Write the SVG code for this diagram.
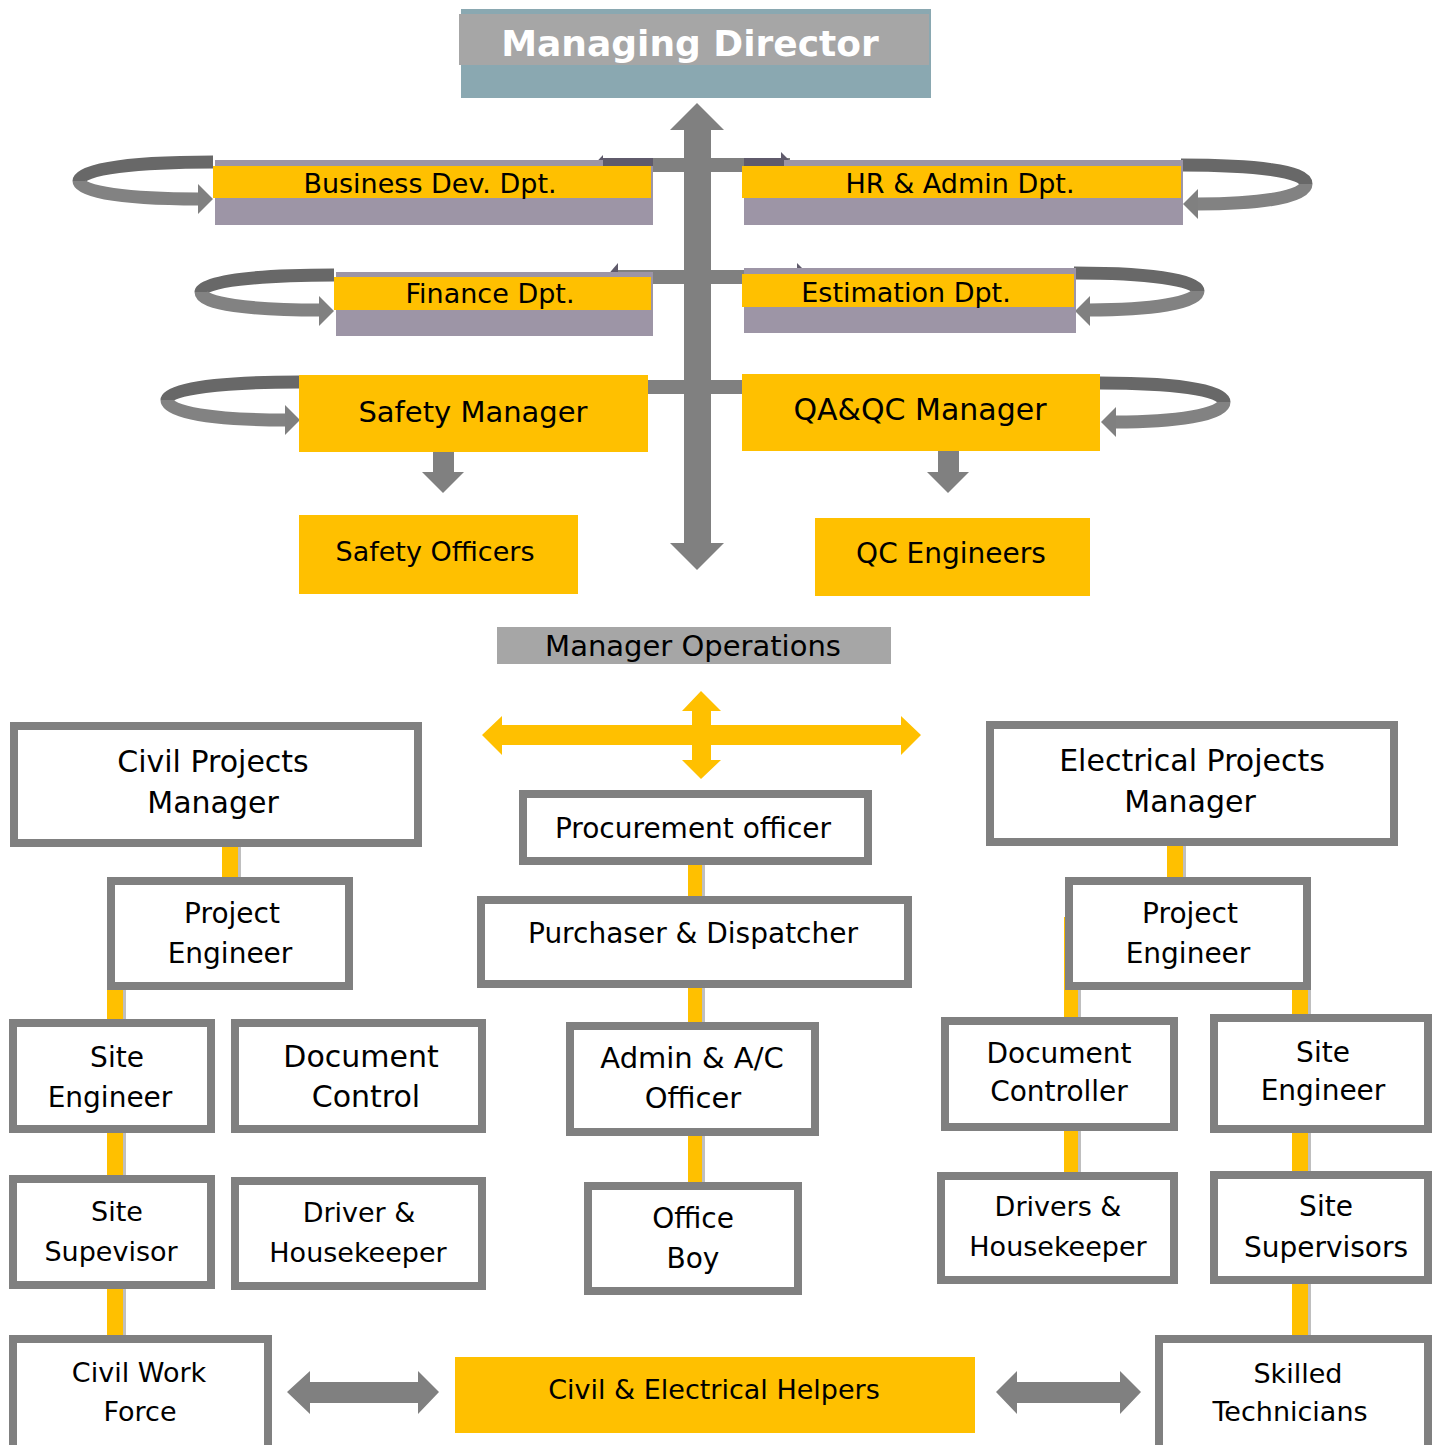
<svg xmlns="http://www.w3.org/2000/svg" width="1440" height="1445" viewBox="0 0 1440 1445">
<style>
text{font-family:"DejaVu Sans",Verdana,"Liberation Sans",sans-serif;text-anchor:middle;fill:#000}
.t27{font-size:27px}.t28{font-size:28px}.t29{font-size:29px}.t30{font-size:30px}
.bx{fill:#fff;stroke:#808080;stroke-width:8}
.yl{fill:#ffc000}
.pu{fill:#9d95a6}
.dk{fill:#5f5a6b}
.gr{fill:#808080}
.ly{fill:#ffc000}
.ls{fill:#bfbfbf}
.lpd{fill:none;stroke:#686868;stroke-width:13}
.lpl{fill:none;stroke:#828282;stroke-width:13}
</style>
<rect width="1440" height="1445" fill="#fff"/>
<g id="connectors">
  <!-- horizontal bars from main spine -->
  <rect class="gr" x="600" y="158" width="190" height="14"/>
  <rect class="gr" x="615" y="270" width="190" height="14"/>
  <rect class="gr" x="645" y="380" width="100" height="14"/>
  <polygon class="dk" points="588,171 603,155 603,171"/>
  <polygon class="dk" points="781,152 795,166 781,166"/>
  <polygon class="dk" points="606,277 618,263 618,277"/>
  <polygon class="dk" points="797,263 810,276 797,276"/>
  <!-- main vertical double arrow -->
  <polygon class="gr" points="697,103 724,130 711,130 711,543 724,543 697,570 670,543 684,543 684,130 670,130"/>
  <!-- loops left -->
  <path class="lpd" d="M213 162 C140 162 79 168 79 181"/>
  <path class="lpl" d="M79 181 C79 193 130 199 199 199"/>
  <polygon class="gr" points="198,184 213,199 198,214"/>
  <path class="lpd" d="M334 275 C260 275 201 281 201 292"/>
  <path class="lpl" d="M201 292 C201 304 250 310 320 310"/>
  <polygon class="gr" points="319,296 334,311 319,326"/>
  <path class="lpd" d="M299 382 C225 382 167 388 167 400"/>
  <path class="lpl" d="M167 400 C167 413 215 420 286 420"/>
  <polygon class="gr" points="285,405 300,420 285,435"/>
  <!-- loops right -->
  <path class="lpd" d="M1181 165 C1255 165 1306 171 1306 184"/>
  <path class="lpl" d="M1306 184 C1306 197 1260 204 1197 204"/>
  <polygon class="gr" points="1198,189 1183,204 1198,219"/>
  <path class="lpd" d="M1074 273 C1145 273 1198 279 1198 291"/>
  <path class="lpl" d="M1198 291 C1198 303 1150 310 1089 310"/>
  <polygon class="gr" points="1090,296 1075,311 1090,326"/>
  <path class="lpd" d="M1100 383 C1170 383 1224 389 1224 402"/>
  <path class="lpl" d="M1224 402 C1224 415 1175 422 1115 422"/>
  <polygon class="gr" points="1116,407 1101,422 1116,437"/>
  <!-- down arrows -->
  <polygon class="gr" points="433,452 454,452 454,472 464,472 443,493 422,472 433,472"/>
  <polygon class="gr" points="938,451 959,451 959,472 969,472 948,493 927,472 938,472"/>
  <!-- yellow cross arrows -->
  <polygon class="yl" points="482,735 502,716 502,725 901,725 901,716 921,735 901,755 901,745 502,745 502,755"/>
  <polygon class="yl" points="701,691 721,711 711,711 711,760 721,760 701,779 682,760 692,760 692,711 682,711"/>
  <!-- bottom double arrows -->
  <polygon class="gr" points="287,1392 310,1371 310,1382 418,1382 418,1371 439,1392 418,1414 418,1403 310,1403 310,1414"/>
  <polygon class="gr" points="996,1392 1017,1371 1017,1382 1120,1382 1120,1371 1141,1392 1120,1414 1120,1403 1017,1403 1017,1414"/>
  <!-- yellow tree lines -->
  <rect class="ls" x="238" y="847" width="3" height="30"/><rect class="ly" x="222" y="847" width="16" height="30"/>
  <rect class="ls" x="123" y="990" width="3" height="29"/><rect class="ly" x="107" y="990" width="16" height="29"/>
  <rect class="ls" x="123" y="1133" width="3" height="42"/><rect class="ly" x="107" y="1133" width="16" height="42"/>
  <rect class="ls" x="123" y="1289" width="3" height="46"/><rect class="ly" x="107" y="1289" width="16" height="46"/>
  <rect class="ls" x="702" y="865" width="3" height="31"/><rect class="ly" x="688" y="865" width="14" height="31"/>
  <rect class="ls" x="702" y="988" width="3" height="34"/><rect class="ly" x="688" y="988" width="14" height="34"/>
  <rect class="ls" x="702" y="1136" width="3" height="46"/><rect class="ly" x="688" y="1136" width="14" height="46"/>
  <rect class="ls" x="1183" y="846" width="3" height="31"/><rect class="ly" x="1167" y="846" width="16" height="31"/>
  <rect class="ls" x="1078" y="917" width="3" height="101"/><rect class="ly" x="1064" y="917" width="14" height="101"/>
  <rect class="ls" x="1078" y="1129" width="3" height="43"/><rect class="ly" x="1064" y="1129" width="14" height="43"/>
  <rect class="ls" x="1308" y="990" width="3" height="25"/><rect class="ly" x="1292" y="990" width="16" height="25"/>
  <rect class="ls" x="1308" y="1133" width="3" height="39"/><rect class="ly" x="1292" y="1133" width="16" height="39"/>
  <rect class="ls" x="1308" y="1283" width="3" height="52"/><rect class="ly" x="1292" y="1283" width="16" height="52"/>
</g>
<g id="managing-director">
  <rect x="461" y="9" width="470" height="89" fill="#8aa8b1"/>
  <rect x="459" y="14" width="470" height="51" fill="#a6a6a6"/>
  <text x="690" y="56" style="font-size:36px;font-weight:bold;fill:#fff">Managing Director</text>
</g>
<g id="business-dev">
  <rect class="pu" x="215" y="160" width="438" height="65"/>
  <rect class="dk" x="603" y="158" width="50" height="8"/>
  <rect class="yl" x="213" y="166" width="438" height="32"/>
  <text class="t27" x="430" y="193">Business Dev. Dpt.</text>
</g>
<g id="hr-admin">
  <rect class="pu" x="744" y="160" width="439" height="65"/>
  <rect class="dk" x="744" y="158" width="40" height="8"/>
  <rect class="yl" x="742" y="166" width="439" height="32"/>
  <text class="t27" x="960" y="193">HR &amp; Admin Dpt.</text>
</g>
<g id="finance">
  <rect class="pu" x="336" y="272" width="317" height="64"/>
  <rect class="yl" x="334" y="277" width="317" height="33"/>
  <text class="t27" x="490" y="303">Finance Dpt.</text>
</g>
<g id="estimation">
  <rect class="pu" x="744" y="268" width="332" height="65"/>
  <rect class="yl" x="742" y="274" width="332" height="33"/>
  <text class="t27" x="906" y="302">Estimation Dpt.</text>
</g>
<g id="safety-manager">
  <rect class="yl" x="299" y="375" width="349" height="77"/>
  <text class="t29" x="473" y="422">Safety Manager</text>
</g>
<g id="qaqc-manager">
  <rect class="yl" x="742" y="374" width="358" height="77"/>
  <text class="t30" x="920" y="420">QA&amp;QC Manager</text>
</g>
<g id="safety-officers">
  <rect class="yl" x="299" y="515" width="279" height="79"/>
  <text class="t27" x="435" y="561">Safety Officers</text>
</g>
<g id="qc-engineers">
  <rect class="yl" x="815" y="518" width="275" height="78"/>
  <text class="t28" x="951" y="563">QC Engineers</text>
</g>
<g id="manager-operations">
  <rect x="497" y="627" width="394" height="37" fill="#a6a6a6"/>
  <text class="t29" x="693" y="656">Manager Operations</text>
</g>
<g id="civil-pm">
  <rect class="bx" x="14" y="726" width="404" height="117"/>
  <text class="t30" x="213" y="772">Civil Projects</text>
  <text class="t30" x="213" y="813">Manager</text>
</g>
<g id="civil-pe">
  <rect class="bx" x="111" y="881" width="238" height="105"/>
  <text class="t28" x="232" y="923">Project</text>
  <text class="t28" x="230" y="963">Engineer</text>
</g>
<g id="civil-site-engineer">
  <rect class="bx" x="13" y="1023" width="198" height="106"/>
  <text class="t28" x="117" y="1067">Site</text>
  <text class="t28" x="110" y="1107">Engineer</text>
</g>
<g id="document-control">
  <rect class="bx" x="235" y="1023" width="247" height="106"/>
  <text class="t30" x="361" y="1067">Document</text>
  <text class="t30" x="366" y="1107">Control</text>
</g>
<g id="civil-site-supervisor">
  <rect class="bx" x="13" y="1179" width="198" height="106"/>
  <text class="t27" x="117" y="1221">Site</text>
  <text class="t27" x="111" y="1261">Supevisor</text>
</g>
<g id="driver-housekeeper">
  <rect class="bx" x="235" y="1181" width="247" height="105"/>
  <text class="t27" x="359" y="1222">Driver &amp;</text>
  <text class="t27" x="358" y="1262">Housekeeper</text>
</g>
<g id="civil-work-force">
  <rect class="bx" x="13" y="1339" width="255" height="116"/>
  <text class="t27" x="139" y="1382">Civil Work</text>
  <text class="t27" x="140" y="1421">Force</text>
</g>
<g id="procurement-officer">
  <rect class="bx" x="523" y="794" width="345" height="67"/>
  <text class="t28" x="693" y="838">Procurement officer</text>
</g>
<g id="purchaser-dispatcher">
  <rect class="bx" x="481" y="900" width="427" height="84"/>
  <text class="t28" x="693" y="943">Purchaser &amp; Dispatcher</text>
</g>
<g id="admin-ac-officer">
  <rect class="bx" x="570" y="1026" width="245" height="106"/>
  <text class="t29" x="692" y="1068">Admin &amp; A/C</text>
  <text class="t29" x="693" y="1108">Officer</text>
</g>
<g id="office-boy">
  <rect class="bx" x="588" y="1186" width="210" height="105"/>
  <text class="t28" x="693" y="1228">Office</text>
  <text class="t28" x="693" y="1268">Boy</text>
</g>
<g id="electrical-pm">
  <rect class="bx" x="990" y="725" width="404" height="117"/>
  <text class="t30" x="1192" y="771">Electrical Projects</text>
  <text class="t30" x="1190" y="812">Manager</text>
</g>
<g id="electrical-pe">
  <rect class="bx" x="1069" y="881" width="238" height="105"/>
  <text class="t28" x="1190" y="923">Project</text>
  <text class="t28" x="1188" y="963">Engineer</text>
</g>
<g id="document-controller">
  <rect class="bx" x="945" y="1021" width="229" height="106"/>
  <text class="t28" x="1059" y="1063">Document</text>
  <text class="t28" x="1059" y="1101">Controller</text>
</g>
<g id="electrical-site-engineer">
  <rect class="bx" x="1214" y="1018" width="214" height="111"/>
  <text class="t28" x="1323" y="1062">Site</text>
  <text class="t28" x="1323" y="1100">Engineer</text>
</g>
<g id="drivers-housekeeper">
  <rect class="bx" x="941" y="1176" width="233" height="104"/>
  <text class="t27" x="1058" y="1216">Drivers &amp;</text>
  <text class="t27" x="1058" y="1256">Housekeeper</text>
</g>
<g id="electrical-site-supervisors">
  <rect class="bx" x="1214" y="1175" width="214" height="105"/>
  <text class="t28" x="1326" y="1216">Site</text>
  <text class="t28" x="1326" y="1257">Supervisors</text>
</g>
<g id="civil-electrical-helpers">
  <rect class="yl" x="455" y="1357" width="520" height="76"/>
  <text class="t27" x="714" y="1399">Civil &amp; Electrical Helpers</text>
</g>
<g id="skilled-technicians">
  <rect class="bx" x="1159" y="1339" width="269" height="116"/>
  <text class="t27" x="1298" y="1383">Skilled</text>
  <text class="t27" x="1290" y="1421">Technicians</text>
</g>
</svg>
